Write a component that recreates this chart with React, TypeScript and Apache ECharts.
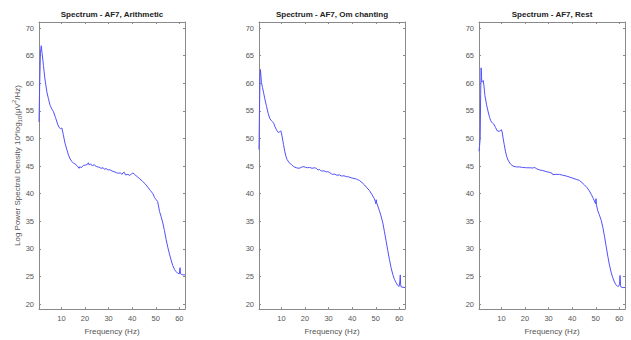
import React, { useEffect, useRef } from "react";
import * as echarts from "echarts";

const panelTitles = ["Spectrum - AF7, Arithmetic", "Spectrum - AF7, Om chanting", "Spectrum - AF7, Rest"];
const yTicks = [20, 25, 30, 35, 40, 45, 50, 55, 60, 65, 70];
const xTicks = [10, 20, 30, 40, 50, 60];
const xLabel = "Frequency (Hz)";

const arithmeticPsd: [number, number][] = [
  [0.5, 53.0], [0.8, 60.0], [1.1, 65.5], [1.45, 66.8], [1.8, 65.5], [2.4, 63.2], [3.0, 60.8], [3.85, 58.4],
  [4.5, 57.2], [5.2, 56.0], [6.0, 55.3], [6.6, 54.9], [7.5, 53.8], [8.4, 52.6], [9.0, 52.0], [9.6, 51.8],
  [10.2, 51.9], [10.8, 50.7], [11.5, 49.2], [12.3, 48.0], [13.0, 47.0], [13.7, 46.3], [14.5, 45.8], [15.2, 45.5],
  [15.8, 45.4], [16.8, 45.0], [17.5, 44.6], [17.9, 44.9], [18.3, 44.7], [19.3, 45.1], [20.3, 45.2], [21.0, 45.3],
  [21.4, 45.6], [21.8, 45.2], [22.4, 45.4], [23.2, 45.0], [23.8, 45.3], [24.2, 45.1], [25.0, 44.9], [26.0, 44.8],
  [26.8, 44.6], [27.7, 44.7], [28.3, 44.4], [29.0, 44.6], [29.6, 44.3], [30.5, 44.35], [31.5, 44.1], [32.3, 44.0],
  [33.3, 43.8], [34.2, 43.7], [35.0, 43.8], [35.6, 43.5], [36.1, 43.75], [36.6, 43.9], [37.2, 43.4], [38.2, 43.5],
  [39.0, 43.3], [39.7, 43.6], [40.3, 43.75], [41.0, 43.5], [42.4, 43.0], [43.2, 42.7], [44.5, 42.2], [45.5, 41.8],
  [46.6, 41.2], [47.7, 40.6], [48.8, 40.0], [49.5, 39.3], [50.2, 38.9], [50.8, 38.6], [51.6, 36.8], [52.3, 35.8],
  [53.0, 34.7], [53.7, 33.3], [54.4, 31.7], [55.1, 30.3], [55.8, 29.1], [56.5, 28.0], [57.2, 27.0], [57.9, 26.3],
  [58.6, 25.9], [59.3, 25.6], [60.0, 25.5], [60.3, 26.6], [60.5, 25.5], [60.7, 25.4], [61.0, 25.4], [61.5, 25.3],
  [62.0, 25.3], [62.4, 25.3],
];

const omChantingPsd: [number, number][] = [
  [0.5, 48.0], [0.7, 55.0], [0.95, 61.5], [1.1, 62.5], [1.3, 61.5], [1.5, 60.2], [2.0, 59.2], [2.5, 58.2],
  [2.96, 57.2], [3.7, 55.8], [4.4, 54.5], [5.1, 53.6], [5.8, 53.2], [6.3, 53.0], [6.8, 52.7], [7.3, 52.1],
  [7.9, 51.6], [8.4, 51.2], [8.9, 51.1], [9.3, 51.2], [9.7, 51.4], [10.0, 51.0], [10.4, 50.1], [10.9, 48.9],
  [11.4, 47.7], [11.9, 46.8], [12.4, 46.2], [13.3, 45.6], [14.2, 45.3], [15.2, 44.9], [16.3, 44.7], [17.5, 44.6],
  [18.5, 44.8], [19.2, 44.9], [20.2, 44.8], [21.0, 44.7], [22.0, 44.75], [23.0, 44.6], [24.0, 44.7], [24.8, 44.6],
  [25.5, 44.3], [26.2, 44.4], [26.9, 44.1], [28.0, 44.15], [29.0, 43.95], [29.7, 44.0], [30.5, 43.8], [31.2, 43.6],
  [31.8, 43.5], [32.5, 43.55], [33.5, 43.35], [34.6, 43.4], [35.5, 43.2], [36.5, 43.25], [37.5, 43.1], [38.5, 43.05],
  [39.5, 42.9], [40.3, 42.8], [41.5, 42.7], [42.3, 42.55], [43.1, 42.4], [44.2, 42.0], [45.2, 41.6], [46.2, 41.1],
  [47.3, 40.6], [48.3, 39.9], [49.4, 39.1], [49.8, 38.6], [50.0, 38.2], [50.2, 38.9], [50.4, 38.3], [51.0, 37.6],
  [51.5, 37.0], [52.2, 36.0], [53.0, 34.7], [53.7, 33.1], [54.4, 31.4], [55.1, 29.7], [55.8, 28.1], [56.5, 26.6],
  [57.2, 25.4], [57.9, 24.5], [58.6, 23.9], [59.3, 23.4], [59.9, 23.2], [60.2, 24.0], [60.4, 25.3], [60.55, 23.5],
  [60.8, 23.1], [61.5, 23.05], [62.4, 23.0],
];

const restPsd: [number, number][] = [
  [0.5, 47.7], [0.7, 48.5], [1.0, 50.0], [1.2, 58.0], [1.4, 62.8], [1.6, 61.0], [1.7, 60.2], [2.0, 60.3],
  [2.3, 60.5], [2.6, 59.5], [3.0, 57.8], [3.7, 56.1], [4.4, 54.8], [5.0, 53.8], [5.5, 53.2], [6.2, 52.8],
  [6.8, 52.6], [7.5, 52.0], [8.2, 51.4], [9.0, 51.3], [9.5, 51.4], [10.0, 51.6], [10.4, 51.0], [10.7, 50.1],
  [11.2, 48.9], [11.7, 47.7], [12.2, 46.8], [12.8, 46.1], [13.8, 45.4], [14.9, 45.0], [16.3, 44.85], [17.7, 44.85],
  [19.0, 44.75], [20.6, 44.7], [22.0, 44.7], [23.2, 44.65], [24.1, 44.75], [25.0, 44.5], [26.2, 44.3], [27.5, 44.2],
  [29.0, 44.0], [30.5, 43.85], [31.5, 43.7], [31.8, 43.45], [33.0, 43.5], [34.6, 43.5], [36.0, 43.35], [37.5, 43.2],
  [39.0, 43.0], [40.3, 42.8], [41.7, 42.6], [43.1, 42.4], [44.2, 42.0], [45.2, 41.6], [46.3, 41.1], [47.3, 40.5],
  [48.2, 39.8], [49.0, 39.1], [49.6, 38.5], [49.9, 38.2], [50.1, 39.1], [50.3, 38.0], [50.8, 37.0], [51.5, 36.2],
  [52.3, 35.2], [53.0, 33.9], [53.7, 32.3], [54.4, 30.5], [55.1, 28.7], [55.8, 27.1], [56.5, 25.8], [57.2, 24.8],
  [57.9, 24.0], [58.6, 23.5], [59.3, 23.2], [59.8, 23.3], [60.1, 23.6], [60.3, 25.2], [60.5, 23.4], [60.7, 23.1],
  [61.5, 23.0], [62.4, 23.0],
];

const seriesData = [arithmeticPsd, omChantingPsd, restPsd];

const FONT = "'Liberation Sans', Arial, Helvetica, sans-serif";
const AXIS_COLOR = "#8a8a8a";
const LABEL_COLOR = "#555555";

export default function App() {
  const ref = useRef<HTMLDivElement>(null);

  useEffect(() => {
    if (!ref.current) return;
    const chart = echarts.init(ref.current, null, { renderer: "svg" });
    const lefts = [39, 259, 479];
    const grids = lefts.map((l) => ({ left: l, top: 22, width: 146, height: 292 }));
    const xAxes: any[] = [];
    const yAxes: any[] = [];
    const series: any[] = [];
    lefts.forEach((_, i) => {
      const common = { min: 0.5, max: 62.4, type: "value", gridIndex: i };
      xAxes.push({
        ...common,
        position: "bottom",
        name: xLabel,
        nameLocation: "middle",
        nameGap: 16,
        nameTextStyle: { fontFamily: FONT, fontSize: 8, color: LABEL_COLOR },
        axisLine: { show: true, lineStyle: { color: AXIS_COLOR, width: 1 } },
        axisTick: { show: true, inside: true, length: 2, customValues: xTicks, lineStyle: { color: AXIS_COLOR } },
        axisLabel: { show: true, customValues: xTicks, margin: 5, fontFamily: FONT, fontSize: 7.5, color: LABEL_COLOR },
        splitLine: { show: false },
      });
      xAxes.push({
        ...common,
        position: "top",
        name: panelTitles[i],
        nameLocation: "middle",
        nameGap: 4,
        nameTextStyle: { fontFamily: FONT, fontSize: 8, fontWeight: "bold", color: "#222222" },
        axisLine: { show: true, lineStyle: { color: AXIS_COLOR, width: 1 } },
        axisTick: { show: true, inside: true, length: 2, customValues: xTicks, lineStyle: { color: AXIS_COLOR } },
        axisLabel: { show: false },
        splitLine: { show: false },
      });
      const ycommon = { min: 19.1, max: 71.1, type: "value", gridIndex: i };
      yAxes.push({
        ...ycommon,
        position: "left",
        name: i === 0 ? "Log Power Spectral Density 10*log{sub|10}(μV{sup|2}/Hz)" : "",
        nameLocation: "middle",
        nameGap: 16,
        nameMoveOverlap: false,
        nameTextStyle: {
          fontFamily: FONT,
          fontSize: 8,
          color: LABEL_COLOR,
          rich: {
            sub: { fontFamily: FONT, fontSize: 6, color: LABEL_COLOR, verticalAlign: "bottom", lineHeight: 12 },
            sup: { fontFamily: FONT, fontSize: 6, color: LABEL_COLOR, verticalAlign: "top", lineHeight: 12 },
          },
        },
        axisLine: { show: true, lineStyle: { color: AXIS_COLOR, width: 1 } },
        axisTick: { show: true, inside: true, length: 2, customValues: yTicks, lineStyle: { color: AXIS_COLOR } },
        axisLabel: { show: true, customValues: yTicks, margin: 5, fontFamily: FONT, fontSize: 7.5, color: LABEL_COLOR },
        splitLine: { show: false },
      });
      yAxes.push({
        ...ycommon,
        position: "right",
        axisLine: { show: true, lineStyle: { color: AXIS_COLOR, width: 1 } },
        axisTick: { show: true, inside: true, length: 2, customValues: yTicks, lineStyle: { color: AXIS_COLOR } },
        axisLabel: { show: false },
        splitLine: { show: false },
      });
      series.push({
        type: "line",
        xAxisIndex: i * 2,
        yAxisIndex: i * 2,
        data: seriesData[i],
        showSymbol: false,
        symbol: "none",
        clip: true,
        lineStyle: { color: "#5050ff", width: 1 },
      });
    });
    chart.setOption({
      animation: false,
      backgroundColor: "#ffffff",
      grid: grids,
      xAxis: xAxes,
      yAxis: yAxes,
      series,
    });
    return () => chart.dispose();
  }, []);

  return (
    <div
      ref={ref}
      style={{ position: "fixed", left: 0, top: 0, width: 631, height: 340, background: "#fff" }}
    />
  );
}
